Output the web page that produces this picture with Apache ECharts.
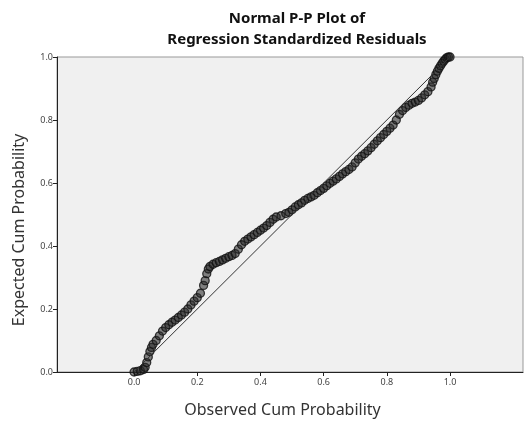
<!DOCTYPE html>
<html>
<head>
<meta charset="utf-8">
<script src="https://cdn.jsdelivr.net/npm/echarts@6/dist/echarts.min.js"></script>
<style>
  html, body { margin: 0; padding: 0; background: #fff; }
  #chart { width: 525px; height: 423px; }
</style>
</head>
<body>
<div id="chart"></div>
<script>
// observed cum probability (x) / expected cum probability (y)
var observed = [0.000, 0.010, 0.020, 0.030, 0.035, 0.040, 0.045, 0.050, 0.055, 0.060,
  0.070, 0.080, 0.090, 0.100, 0.110, 0.120, 0.130, 0.140, 0.150, 0.160,
  0.170, 0.180, 0.190, 0.200, 0.210, 0.220, 0.225, 0.230, 0.235, 0.240,
  0.250, 0.260, 0.270, 0.280, 0.290, 0.300, 0.310, 0.320, 0.330, 0.340,
  0.350, 0.360, 0.370, 0.380, 0.390, 0.400, 0.410, 0.420, 0.430, 0.440,
  0.450, 0.465, 0.480, 0.490, 0.500, 0.510, 0.520, 0.530, 0.540, 0.550,
  0.560, 0.570, 0.580, 0.590, 0.600, 0.610, 0.620, 0.630, 0.640, 0.650,
  0.660, 0.670, 0.680, 0.690, 0.700, 0.710, 0.720, 0.730, 0.740, 0.750,
  0.760, 0.770, 0.780, 0.790, 0.800, 0.810, 0.820, 0.830, 0.840, 0.850,
  0.860, 0.870, 0.880, 0.890, 0.900, 0.910, 0.920, 0.930, 0.940, 0.945,
  0.950, 0.955, 0.960, 0.965, 0.970, 0.975, 0.980, 0.985, 0.990, 0.995, 1.000];
var expected = [0.000, 0.002, 0.004, 0.008, 0.015, 0.030, 0.048, 0.065, 0.078, 0.088,
  0.100, 0.115, 0.130, 0.141, 0.150, 0.158, 0.165, 0.173, 0.181, 0.190,
  0.200, 0.213, 0.225, 0.236, 0.250, 0.275, 0.290, 0.312, 0.327, 0.335,
  0.342, 0.347, 0.351, 0.356, 0.361, 0.366, 0.370, 0.376, 0.390, 0.404,
  0.415, 0.422, 0.429, 0.436, 0.443, 0.450, 0.457, 0.465, 0.475, 0.485,
  0.492, 0.496, 0.503, 0.507, 0.515, 0.524, 0.531, 0.537, 0.545, 0.551,
  0.556, 0.561, 0.569, 0.576, 0.583, 0.591, 0.599, 0.606, 0.613, 0.621,
  0.629, 0.636, 0.643, 0.651, 0.664, 0.676, 0.685, 0.693, 0.702, 0.712,
  0.723, 0.734, 0.744, 0.754, 0.764, 0.774, 0.784, 0.800, 0.818, 0.830,
  0.840, 0.847, 0.853, 0.857, 0.862, 0.870, 0.880, 0.890, 0.905, 0.920,
  0.932, 0.944, 0.955, 0.964, 0.972, 0.980, 0.987, 0.993, 0.998, 1.000, 1.000];
var tickValues = [0, 0.2, 0.4, 0.6, 0.8, 1.0];
var refLine = [[0, 0], [1, 1]];

var points = observed.map(function (x, i) { return [x, expected[i]]; });

var chart = echarts.init(document.getElementById('chart'));
chart.setOption({
  animation: false,
  title: {
    text: 'Normal P-P Plot of\nRegression Standardized Residuals',
    left: 292,
    top: 3,
    textAlign: 'center',
    textStyle: { fontFamily: 'Noto Sans', fontSize: 15, fontWeight: 'bold', color: '#111', lineHeight: 21 }
  },
  grid: {
    left: 57, right: 2, top: 57, bottom: 49,
    show: true, backgroundColor: '#f0f0f0', borderColor: '#999', borderWidth: 1
  },
  xAxis: {
    type: 'value',
    min: -0.244, max: 1.231,
    name: 'Observed Cum Probability',
    nameLocation: 'middle',
    nameGap: 30,
    nameTextStyle: { fontFamily: 'Noto Sans', fontSize: 16, color: '#333', padding: [0, 15, 0, 0] },
    axisLine: { show: true, onZero: false, lineStyle: { color: '#222', width: 1 } },
    axisTick: { show: true, length: 4, customValues: tickValues, lineStyle: { color: '#222' } },
    axisLabel: {
      customValues: tickValues, margin: 6, fontFamily: 'Noto Sans', fontSize: 9, color: '#444',
      formatter: function (v) { return v.toFixed(1); }
    },
    splitLine: { show: false }
  },
  yAxis: {
    type: 'value',
    min: 0, max: 1, interval: 0.2,
    name: 'Expected Cum Probability',
    nameLocation: 'middle',
    nameGap: 30,
    nameTextStyle: { fontFamily: 'Noto Sans', fontSize: 16, color: '#333', padding: [0, 31, 0, 0] },
    axisLine: { show: true, onZero: false, lineStyle: { color: '#222', width: 1 } },
    axisTick: { show: true, length: 4, lineStyle: { color: '#222' } },
    axisLabel: {
      margin: 4, fontFamily: 'Noto Sans', fontSize: 9, color: '#444',
      formatter: function (v) { return v.toFixed(1); }
    },
    splitLine: { show: false }
  },
  series: [{
    type: 'line',
    data: refLine,
    symbol: 'none',
    lineStyle: { color: '#333', width: 1 },
    z: 3
  }, {
    type: 'scatter',
    data: points,
    symbol: 'circle',
    symbolSize: 8,
    itemStyle: { color: 'rgba(40,40,40,0.7)', borderColor: '#111', borderWidth: 1.3 },
    z: 2
  }]
});
</script>
</body>
</html>
